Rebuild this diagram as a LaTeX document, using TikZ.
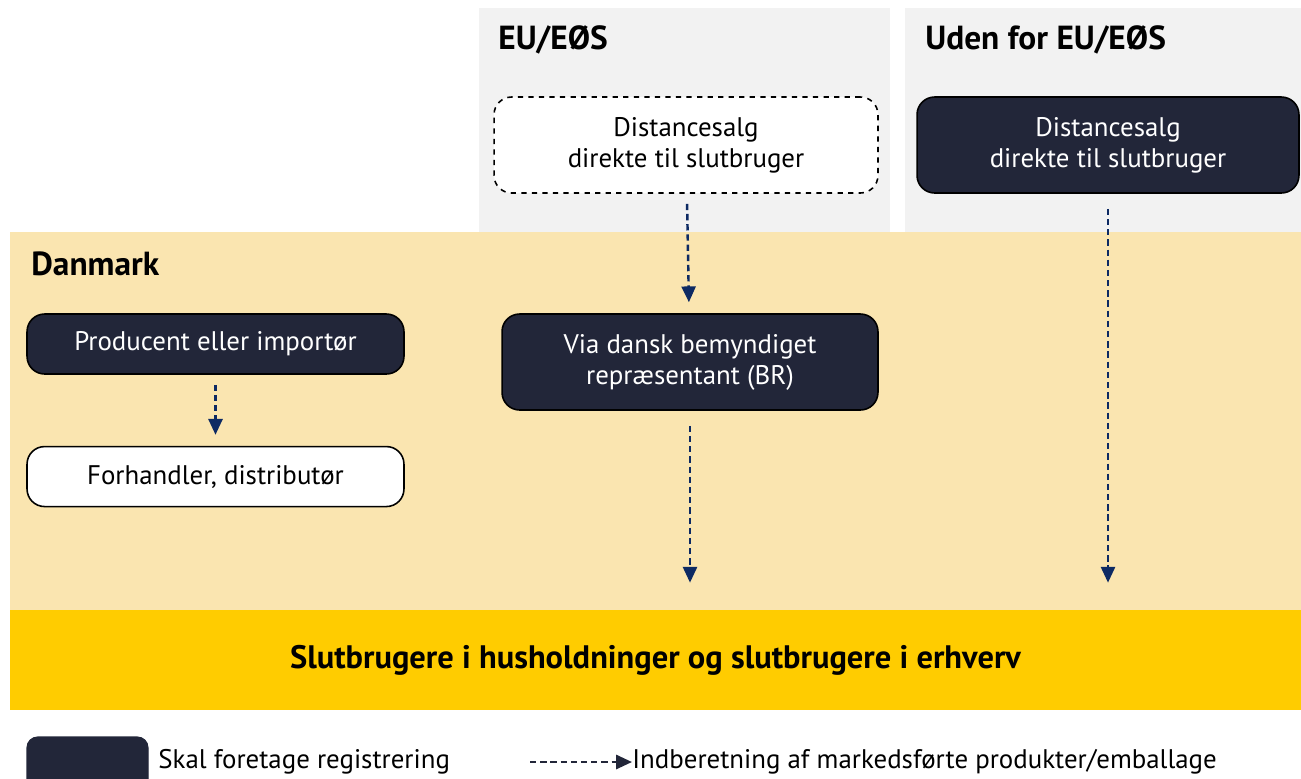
\documentclass[tikz,border=0pt]{standalone}
\usepackage{fontspec}
\setmainfont{PT Sans}
\usepackage{tikz}
\usetikzlibrary{arrows.meta,positioning}

\definecolor{panelgrey}{HTML}{F2F2F2}
\definecolor{dktan}{HTML}{FAE5B0}
\definecolor{slutgul}{HTML}{FFCC00}
\definecolor{navy}{HTML}{222639}
\definecolor{pilblaa}{HTML}{0D2A63}

\tikzset{
  box/.style={draw=black, line width=0.9pt, rounded corners=10pt, align=center,
              font=\fontsize{15.3}{17.6}\selectfont, inner sep=0pt},
  reg/.style={box, fill=navy, text=white},
  title/.style={anchor=west, font=\fontsize{19}{22}\selectfont\bfseries, inner sep=0pt},
  flow/.style={pilblaa, line width=1.4pt, dash pattern=on 3.6pt off 2.2pt,
               -{Triangle[width=8pt,length=9pt]}},
}

\begin{document}
\begin{tikzpicture}[x=0.02cm, y=-0.02cm]
          \clip (0,0) rectangle (1301,778);
          % baggrunde
          \fill[panelgrey] (479,8) rectangle (890,232);
          \fill[panelgrey] (905,8) rectangle (1301,232);
          \fill[dktan] (10,232) rectangle (1301,610);

          \node[title] (eu)  at (498,40)  {EU/EØS};
          \node[title] (ude) at (925,40)  {Uden for EU/EØS};
          \node[title] (dk)  at (31,264)  {Danmark};

          \node[box, fill=white, dashed, minimum width=7.68cm, minimum height=1.92cm]
                (eusalg) at (686,145) {Distancesalg\\direkte til slutbruger};
          \node[reg, minimum width=7.64cm, minimum height=1.92cm]
                (udesalg) at (1108,145) {Distancesalg\\direkte til slutbruger};
          \node[reg, minimum width=7.52cm, minimum height=1.92cm]
                (br) at (690,362) {Via dansk bemyndiget\\repræsentant (BR)};
          \node[reg, minimum width=7.54cm, minimum height=1.2cm]
                (prod) at (215.5,344) {Producent eller importør};
          \node[box, fill=white, minimum width=7.54cm, minimum height=1.2cm]
                (forh) [below=1.42cm of prod] {Forhandler, distributør};

          \node[fill=slutgul, minimum width=25.82cm, minimum height=2cm, inner sep=0pt,
                font=\fontsize{18.5}{21}\selectfont\bfseries]
                (slut) at (655.5,660) {Slutbrugere i husholdninger og slutbrugere i erhverv};

          \path[flow, shorten <=0.2cm, shorten >=0.22cm]
                    (eusalg) edge (br)
                    (prod)   edge (forh);
          \path[flow, shorten <=0.3cm, shorten >=0.54cm]
                    (br)      edge (br |- slut.north)
                    (udesalg.south) edge (udesalg.south |- slut.north);

          % forklaring
          \draw[navy, fill=navy, rounded corners=6pt, line width=0.6pt] (27,737) rectangle (148,800);
          \node[anchor=west, inner sep=0pt, font=\fontsize{15.3}{17.6}\selectfont]
                (regtxt) at (158,762) {Skal foretage registrering};
          \coordinate (pilstart) at (530,762);
          \node[anchor=west, inner sep=0pt, font=\fontsize{15.3}{17.6}\selectfont]
                (pilTxt) at (632,762) {Indberetning af markedsførte produkter/emballage};
          \draw[flow, navy] (pilstart) -- (pilTxt.west);
        \end{tikzpicture}
\end{document}
